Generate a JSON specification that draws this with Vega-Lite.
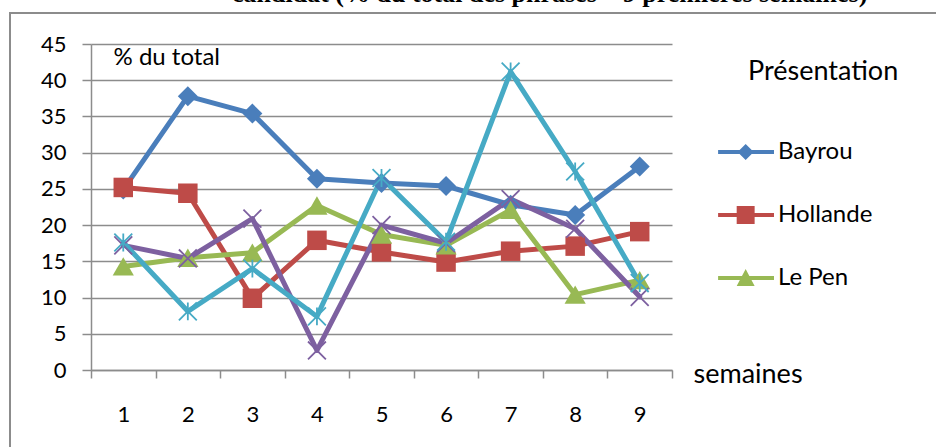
{
  "$schema": "https://vega.github.io/schema/vega-lite/v6.json",
  "width": 930,
  "height": 440,
  "autosize": "none",
  "padding": {"left": 10, "top": 13, "right": -4, "bottom": -6},
  "background": "white",
  "title": {
    "text": "candidat (% du total des phrases – 9 premières semaines)",
    "font": "Liberation Serif",
    "fontSize": 26,
    "fontWeight": "bold",
    "color": "black",
    "anchor": "start",
    "frame": "group",
    "dx": 222,
    "dy": 19,
    "offset": 4,
    "baseline": "alphabetic"
  },
  "config": {
    "view": {"stroke": "#8c8c8c", "strokeWidth": 2},
    "axis": {
      "labelFont": "Lato",
      "labelColor": "black",
      "titleFont": "Lato",
      "titleColor": "black",
      "titleFontWeight": "normal",
      "domainColor": "#8c8c8c",
      "tickColor": "#8c8c8c",
      "gridColor": "#8c8c8c"
    },
    "legend": {
      "titleFont": "Lato",
      "labelFont": "Lato"
    }
  },
  "resolve": {"scale": {"color": "independent", "shape": "independent"}},
  "data": {
    "values": [
      {"week": 1, "candidat": "Bayrou", "value": 24.9},
      {"week": 2, "candidat": "Bayrou", "value": 37.8},
      {"week": 3, "candidat": "Bayrou", "value": 35.4},
      {"week": 4, "candidat": "Bayrou", "value": 26.4},
      {"week": 5, "candidat": "Bayrou", "value": 25.8},
      {"week": 6, "candidat": "Bayrou", "value": 25.4},
      {"week": 7, "candidat": "Bayrou", "value": 22.8},
      {"week": 8, "candidat": "Bayrou", "value": 21.4},
      {"week": 9, "candidat": "Bayrou", "value": 28.1},
      {"week": 1, "candidat": "Hollande", "value": 25.2},
      {"week": 2, "candidat": "Hollande", "value": 24.4},
      {"week": 3, "candidat": "Hollande", "value": 9.9},
      {"week": 4, "candidat": "Hollande", "value": 17.9},
      {"week": 5, "candidat": "Hollande", "value": 16.3},
      {"week": 6, "candidat": "Hollande", "value": 14.9},
      {"week": 7, "candidat": "Hollande", "value": 16.4},
      {"week": 8, "candidat": "Hollande", "value": 17.1},
      {"week": 9, "candidat": "Hollande", "value": 19.1},
      {"week": 1, "candidat": "Le Pen", "value": 14.3},
      {"week": 2, "candidat": "Le Pen", "value": 15.5},
      {"week": 3, "candidat": "Le Pen", "value": 16.2},
      {"week": 4, "candidat": "Le Pen", "value": 22.7},
      {"week": 5, "candidat": "Le Pen", "value": 18.7},
      {"week": 6, "candidat": "Le Pen", "value": 17.2},
      {"week": 7, "candidat": "Le Pen", "value": 22.1},
      {"week": 8, "candidat": "Le Pen", "value": 10.4},
      {"week": 9, "candidat": "Le Pen", "value": 12.4},
      {"week": 1, "candidat": "Mélenchon", "value": 17.2},
      {"week": 2, "candidat": "Mélenchon", "value": 15.4},
      {"week": 3, "candidat": "Mélenchon", "value": 20.9},
      {"week": 4, "candidat": "Mélenchon", "value": 2.7},
      {"week": 5, "candidat": "Mélenchon", "value": 20.0},
      {"week": 6, "candidat": "Mélenchon", "value": 17.5},
      {"week": 7, "candidat": "Mélenchon", "value": 23.6},
      {"week": 8, "candidat": "Mélenchon", "value": 19.5},
      {"week": 9, "candidat": "Mélenchon", "value": 10.1},
      {"week": 1, "candidat": "Sarkozy", "value": 17.6},
      {"week": 2, "candidat": "Sarkozy", "value": 8.1},
      {"week": 3, "candidat": "Sarkozy", "value": 14.0},
      {"week": 4, "candidat": "Sarkozy", "value": 7.4},
      {"week": 5, "candidat": "Sarkozy", "value": 26.5},
      {"week": 6, "candidat": "Sarkozy", "value": 17.7},
      {"week": 7, "candidat": "Sarkozy", "value": 41.2},
      {"week": 8, "candidat": "Sarkozy", "value": 27.4},
      {"week": 9, "candidat": "Sarkozy", "value": 12.0}
    ]
  },
  "encoding": {
    "x": {
      "field": "week",
      "type": "ordinal",
      "scale": {"type": "band", "range": [81, 662], "paddingInner": 0, "paddingOuter": 0},
      "axis": {
        "orient": "bottom",
        "offset": -83,
        "tickBand": "extent",
        "grid": false,
        "labelAngle": 0,
        "labelFontSize": 22,
        "labelPadding": 26,
        "tickSize": 8,
        "tickWidth": 1.5,
        "domainWidth": 1.5,
        "title": "semaines",
        "titleFontSize": 27,
        "titleAlign": "left",
        "titleBaseline": "alphabetic",
        "titleAnchor": "start",
        "titleX": 683,
        "titleY": 12
      }
    },
    "y": {
      "field": "value",
      "type": "quantitative",
      "scale": {"domain": [0, 45], "range": [357, 31], "nice": false, "zero": true},
      "axis": {
        "orient": "left",
        "offset": -81,
        "values": [0, 5, 10, 15, 20, 25, 30, 35, 40, 45],
        "grid": true,
        "gridWidth": 1.5,
        "domainWidth": 1.5,
        "tickWidth": 1.5,
        "tickSize": 9,
        "labelPadding": 16,
        "labelFontSize": 22,
        "title": "% du total",
        "titleAngle": 0,
        "titleAlign": "left",
        "titleBaseline": "alphabetic",
        "titleFontSize": 24,
        "titleX": 22,
        "titleY": 51
      }
    }
  },
  "layer": [
    {
      "mark": {"type": "line", "strokeWidth": 5, "strokeJoin": "round", "strokeCap": "round"},
      "encoding": {
        "color": {
          "field": "candidat",
          "type": "nominal",
          "scale": {"domain": ["Bayrou", "Hollande", "Le Pen", "Mélenchon", "Sarkozy"], "range": ["#4A7EBB", "#BE4B48", "#98B954", "#7D60A0", "#46AAC5"]},
          "legend": null
        }
      }
    },
    {
      "transform": [{"filter": {"field": "candidat", "equal": "Bayrou"}}],
      "mark": {"type": "point", "shape": "diamond", "filled": true, "size": 400, "opacity": 1},
      "encoding": {
        "color": {"field": "candidat", "type": "nominal", "scale": {"domain": ["Bayrou", "Hollande", "Le Pen", "Mélenchon", "Sarkozy"], "range": ["#4A7EBB", "#BE4B48", "#98B954", "#7D60A0", "#46AAC5"]}, "legend": null}
      }
    },
    {
      "transform": [{"filter": {"field": "candidat", "equal": "Hollande"}}],
      "mark": {"type": "point", "shape": "square", "filled": true, "size": 380, "opacity": 1},
      "encoding": {
        "color": {"field": "candidat", "type": "nominal", "scale": {"domain": ["Bayrou", "Hollande", "Le Pen", "Mélenchon", "Sarkozy"], "range": ["#4A7EBB", "#BE4B48", "#98B954", "#7D60A0", "#46AAC5"]}, "legend": null}
      }
    },
    {
      "transform": [{"filter": {"field": "candidat", "equal": "Le Pen"}}],
      "mark": {"type": "point", "shape": "triangle-up", "filled": true, "size": 450, "opacity": 1},
      "encoding": {
        "color": {"field": "candidat", "type": "nominal", "scale": {"domain": ["Bayrou", "Hollande", "Le Pen", "Mélenchon", "Sarkozy"], "range": ["#4A7EBB", "#BE4B48", "#98B954", "#7D60A0", "#46AAC5"]}, "legend": null}
      }
    },
    {
      "transform": [{"filter": {"field": "candidat", "equal": "Mélenchon"}}],
      "mark": {"type": "point", "shape": "M-1,-1L1,1M-1,1L1,-1", "filled": false, "size": 320, "strokeWidth": 1.8, "opacity": 1},
      "encoding": {
        "color": {"field": "candidat", "type": "nominal", "scale": {"domain": ["Bayrou", "Hollande", "Le Pen", "Mélenchon", "Sarkozy"], "range": ["#4A7EBB", "#BE4B48", "#98B954", "#7D60A0", "#46AAC5"]}, "legend": null}
      }
    },
    {
      "transform": [{"filter": {"field": "candidat", "equal": "Sarkozy"}}],
      "mark": {"type": "point", "shape": "M-1,-1L1,1M-1,1L1,-1M0,-1L0,1", "filled": false, "size": 320, "strokeWidth": 1.8, "opacity": 1},
      "encoding": {
        "color": {"field": "candidat", "type": "nominal", "scale": {"domain": ["Bayrou", "Hollande", "Le Pen", "Mélenchon", "Sarkozy"], "range": ["#4A7EBB", "#BE4B48", "#98B954", "#7D60A0", "#46AAC5"]}, "legend": null}
      }
    },
    {
      "transform": [{"filter": {"field": "candidat", "oneOf": ["Bayrou", "Hollande", "Le Pen"]}}],
      "mark": {"type": "point", "filled": true, "size": 676, "opacity": 0},
      "encoding": {
        "color": {
          "field": "candidat",
          "type": "nominal",
          "scale": {"domain": ["Bayrou", "Hollande", "Le Pen", "Mélenchon", "Sarkozy"], "range": ["#4A7EBB", "#BE4B48", "#98B954", "#7D60A0", "#46AAC5"]},
          "legend": {
            "title": "Présentation",
            "orient": "none",
            "legendX": 738,
            "legendY": 46,
            "values": ["Bayrou", "Hollande", "Le Pen"],
            "titleFontSize": 27,
            "titleFontWeight": "normal",
            "titleColor": "black",
            "titleBaseline": "top",
            "titlePadding": 53,
            "labelFontSize": 24,
            "labelColor": "black",
            "labelOffset": 4,
            "symbolSize": 676,
            "symbolStrokeWidth": 0,
            "symbolOpacity": 1,
            "rowPadding": 38,
            "padding": 0
          }
        },
        "shape": {
          "field": "candidat",
          "type": "nominal",
          "scale": {
            "domain": ["Bayrou", "Hollande", "Le Pen", "Mélenchon", "Sarkozy"],
            "range": [
              "M-3.3,-0.15H1V0.15H-3.3ZM-1.18,-0.62L-0.56,0L-1.18,0.62L-1.8,0Z",
              "M-3.3,-0.15H1V0.15H-3.3ZM-1.87,-0.69H-0.49V0.69H-1.87Z",
              "M-3.3,-0.15H1V0.15H-3.3ZM-1.18,-0.69L-0.49,0.62H-1.87Z",
              "M-3.3,-0.15H1V0.15H-3.3Z",
              "M-3.3,-0.15H1V0.15H-3.3Z"
            ]
          },
          "legend": {
            "title": "Présentation",
            "orient": "none",
            "legendX": 738,
            "legendY": 46,
            "values": ["Bayrou", "Hollande", "Le Pen"],
            "titleFontSize": 27,
            "titleFontWeight": "normal",
            "titleColor": "black",
            "titleBaseline": "top",
            "titlePadding": 53,
            "labelFontSize": 24,
            "labelColor": "black",
            "labelOffset": 4,
            "symbolSize": 676,
            "symbolStrokeWidth": 0,
            "symbolOpacity": 1,
            "rowPadding": 38,
            "padding": 0
          }
        }
      }
    }
  ]
}
